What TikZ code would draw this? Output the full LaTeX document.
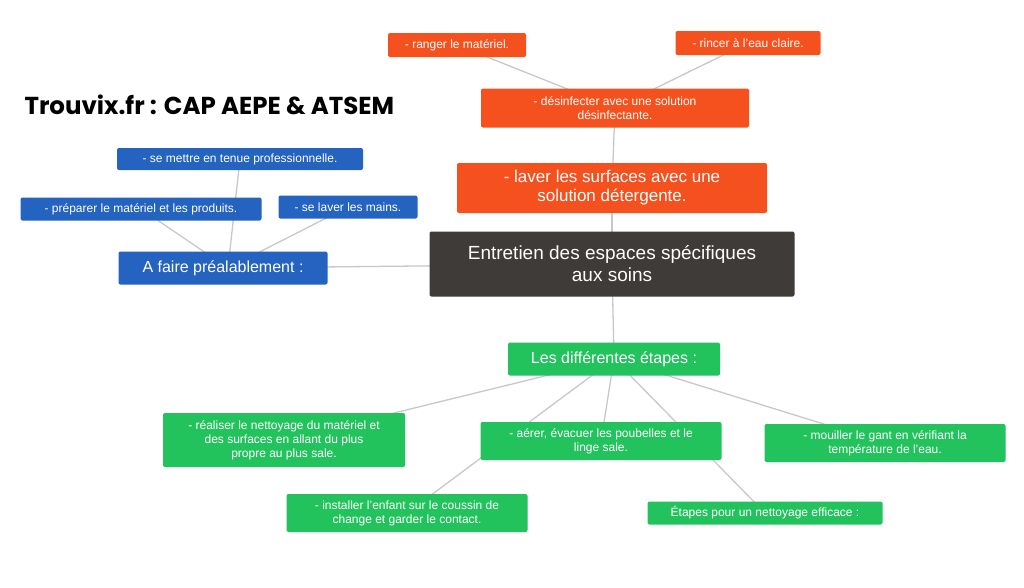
\documentclass[tikz,border=0pt]{standalone}
\usepackage{fontspec}
\setmainfont{Liberation Sans}
\newfontfamily\titlefont{Poppins}
\usetikzlibrary{backgrounds}
\definecolor{cred}{HTML}{F4511E}
\definecolor{cblue}{HTML}{2463BF}
\definecolor{cgreen}{HTML}{22C25D}
\definecolor{cdark}{HTML}{3E3B39}
\definecolor{cline}{HTML}{C8C8C8}
\tikzset{
  box/.style={rounded corners=2pt, text=white, align=center, inner sep=0pt, font=\fontsize{12}{14}\selectfont},
  redbox/.style={box, fill=cred},
  bluebox/.style={box, fill=cblue},
  greenbox/.style={box, fill=cgreen},
  link/.style={draw=cline, line width=1.3pt},
}
\begin{document}
\begin{tikzpicture}[x=1pt,y=-1pt]
\useasboundingbox (0,0) rectangle (1024,587);
\node[anchor=west, font=\titlefont\bfseries\fontsize{24.5}{28}\selectfont] (title) at (21,105) {Trouvix.fr : CAP AEPE \& ATSEM};

\node[box, fill=cdark, minimum width=365, minimum height=65, font=\fontsize{19}{22}\selectfont] (c) at (612,264) {Entretien des espaces spécifiques\\aux soins};

\node[redbox, minimum width=310, minimum height=50, font=\fontsize{17}{19}\selectfont] (r1) at (612,188) {- laver les surfaces avec une\\solution détergente.};
\node[redbox, minimum width=268, minimum height=39] (r2) at (615,108) {- désinfecter avec une solution\\désinfectante.};
\node[redbox, minimum width=138, minimum height=24] (r3) at (457,45) {- ranger le matériel.};
\node[redbox, minimum width=145, minimum height=24] (r4) at (748,43) {- rincer à l'eau claire.};

\node[bluebox, minimum width=209, minimum height=33, font=\fontsize{16}{18}\selectfont] (b0) at (223,268) {A faire préalablement :};
\node[bluebox, minimum width=246, minimum height=22] (b1) at (240,159) {- se mettre en tenue professionnelle.};
\node[bluebox, minimum width=241, minimum height=23] (b2) at (141,209) {- préparer le matériel et les produits.};
\node[bluebox, minimum width=139, minimum height=23] (b3) at (348,207) {- se laver les mains.};

\node[greenbox, minimum width=212, minimum height=33, font=\fontsize{16}{18}\selectfont] (g0) at (614,359) {Les différentes étapes :};
\node[greenbox, minimum width=242, minimum height=54] (g1) at (284,440) {- réaliser le nettoyage du matériel et\\des surfaces en allant du plus\\propre au plus sale.};
\node[greenbox, minimum width=241, minimum height=38] (g2) at (601,441) {- aérer, évacuer les poubelles et le\\linge sale.};
\node[greenbox, minimum width=241, minimum height=38] (g3) at (885,443) {- mouiller le gant en vérifiant la\\température de l'eau.};
\node[greenbox, minimum width=241, minimum height=38] (g4) at (407,513) {- installer l'enfant sur le coussin de\\change et garder le contact.};
\node[greenbox, minimum width=235, minimum height=23] (g5) at (765,513) {Étapes pour un nettoyage efficace :};

\begin{scope}[on background layer]
\draw[link] (c.center) -- (r1.center);
\draw[link] (r1.center) -- (r2.center);
\draw[link] (r2.center) -- (r3.center);
\draw[link] (r2.center) -- (r4.center);
\draw[link] (c.center) -- (b0.center);
\coordinate (bj) at (228,268);
\draw[link] (bj) -- (b1.center);
\draw[link] (bj) -- (b2.center);
\draw[link] (bj) -- (b3.center);
\draw[link] (c.center) -- (g0.center);
\draw[link] (g0.center) -- (g1.center);
\draw[link] (g0.center) -- (g2.center);
\draw[link] (g0.center) -- (g3.center);
\draw[link] (g0.center) -- (g4.center);
\draw[link] (g0.center) -- (g5.center);
\end{scope}
\end{tikzpicture}
\end{document}
